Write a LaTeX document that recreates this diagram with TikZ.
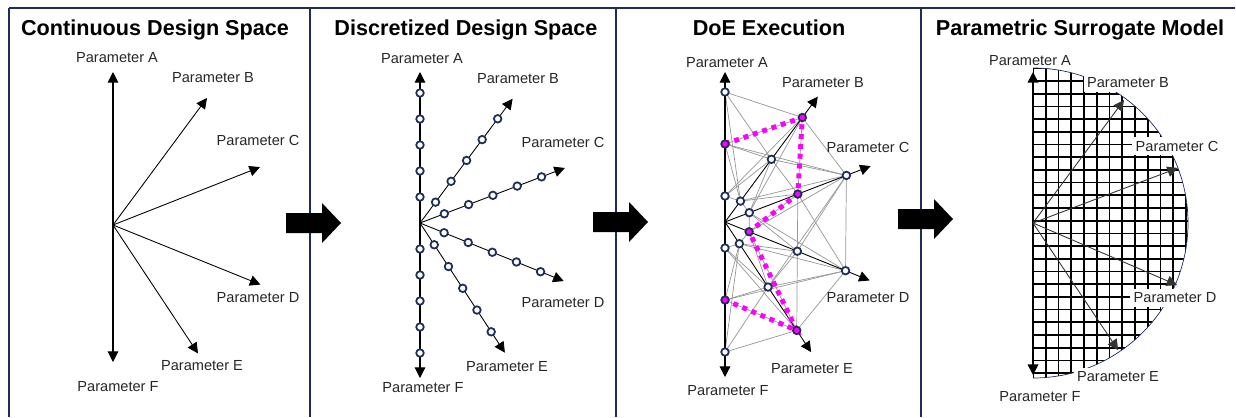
\documentclass[tikz,border=0pt]{standalone}
\usepackage{fontspec}
\setmainfont{Liberation Sans}
\usetikzlibrary{arrows.meta}

\definecolor{navy}{RGB}{31,45,92}
\definecolor{hotpink}{RGB}{255,0,255}
\definecolor{meshgray}{RGB}{150,150,150}

% filled block arrow between two panels: shaft start x, centre y
\newcommand{\blockArrow}[2]{%
  \fill ({#1},{-#2+10}) -- ++(36,0) -- ++(0,10) -- ++(19,-20)
        -- ++(-19,-20) -- ++(0,10) -- ++(-36,0) -- cycle;
}

\begin{document}
\begin{tikzpicture}[x=0.02cm, y=0.02cm,
  frame/.style={navy, line width=1.1pt},
  ttl/.style={font=\fontsize{12.3}{14}\selectfont\bfseries, anchor=base},
  lbl/.style={font=\fontsize{8.3}{10}\selectfont, text=black!85, inner sep=1.5pt},
  wlbl/.style={lbl, fill=white, inner sep=2pt},
  ax/.style={-{Triangle[length=6pt,width=6pt]}, line width=0.5pt},
  axx/.style={{Triangle[length=6pt,width=6pt]}-{Triangle[length=6pt,width=6pt]}, line width=0.6pt},
  pt/.style={circle, draw=navy, fill=white, line width=1pt, minimum size=4.3pt, inner sep=0pt},
  hit/.style={pt, fill=hotpink},
  mesh/.style={meshgray, line width=0.4pt},
  path/.style={hotpink, line width=2.8pt, dash pattern=on 2.8pt off 2.8pt}]

\useasboundingbox (0,0) rectangle (1236,-417);

%─────────────
% Frames and titles
%─────────────
\draw[frame] (9,-8) -- (1235,-8);
\foreach \x in {9,310,616,921}
  \draw[frame] (\x,-8) -- (\x,-417);

\node[ttl] (t1) at (155,-35) {Continuous Design Space};
\node[ttl] (t2) at (466,-35) {Discretized Design Space};
\node[ttl] (t3) at (769,-35) {DoE Execution};
\node[ttl] (t4) at (1080,-35) {Parametric Surrogate Model};

%─────────────
% Panel 1: continuous axes
%─────────────
\coordinate (o1) at (113,-225);
\coordinate (p1a) at (113,-72);
\coordinate (p1f) at (113,-362);
\draw[axx] (p1a) -- (p1f);
\foreach \n/\ang/\len in {b/53.5/158, c/21.5/158, d/-22/159, e/-56.5/154}
  \draw[ax] (o1) -- ++(\ang:\len) coordinate (p1\n);

\node[lbl] (l1a) at (117,-58)  {Parameter A};
\node[lbl] (l1b) at (213,-78)  {Parameter B};
\node[lbl] (l1c) at (258,-140) {Parameter C};
\node[lbl] (l1d) at (258,-298) {Parameter D};
\node[lbl] (l1e) at (202,-366) {Parameter E};
\node[lbl] (l1f) at (118,-387) {Parameter F};

\blockArrow{286}{223}

%─────────────
% Panel 2: axes split into levels
%─────────────
\coordinate (o2) at (420,-223);
\coordinate (p2a) at (420,-72);
\coordinate (p2f) at (420,-378);
\draw[axx] (p2a) -- (p2f);
\foreach \n/\ang in {b/53.3, c/20.8, d/-22, e/-56.8}
  \draw[ax] (o2) -- ++(\ang:155) coordinate (p2\n);

% five levels on every axis
\begin{scope}[shift={(420,-223)}]
  \foreach \ang in {90,53.3,20.8,-22,-56.8,-90}
    \foreach \k in {1,...,5}
      \node[pt] (d2-\ang-\k) at (\ang:26*\k) {};
\end{scope}

\node[lbl] (l2a) at (422,-59)  {Parameter A};
\node[lbl] (l2b) at (518,-79)  {Parameter B};
\node[lbl] (l2c) at (563,-142) {Parameter C};
\node[lbl] (l2d) at (563,-303) {Parameter D};
\node[lbl] (l2e) at (507,-367) {Parameter E};
\node[lbl] (l2f) at (423,-388) {Parameter F};

\blockArrow{593}{222}

%─────────────
% Panel 3: sampled runs
%─────────────
\coordinate (o3) at (725,-222);
\begin{scope}[shift={(725,-222)}]
  \foreach \n/\ang in {a/90, b/53.5, c/21, d/-22, e/-56.5, f/-90}
    \foreach \k in {1,3,5}
      \coordinate (\n\k) at (\ang:26*\k);

  % mesh between neighbouring axes
  \foreach \p/\q in {a/b, b/c, c/d, d/e, e/f}
    \foreach \i in {1,3,5}
      \foreach \j in {1,3,5}
        \draw[mesh] (\p\i) -- (\q\j);
  % a few longer links
  \draw[mesh] (a3) -- (c5);
  \draw[mesh] (f3) -- (d5);
  \draw[mesh] (e3) -- (c5);
\end{scope}

\coordinate (p3a) at (725,-72);
\coordinate (p3f) at (725,-377);
\draw[axx] (p3a) -- (p3f);
\foreach \n/\ang in {b/53.5, c/21, d/-22, e/-56.5}
  \draw[ax] (o3) -- ++(\ang:156) coordinate (p3\n);

% chosen run through the space, with a soft shadow
\draw[path, black, opacity=0.12, shift={(2,-3)}] (a3) -- (b5) -- (c3) -- (d1) -- (e5) -- (f3);
\draw[path] (a3) -- (b5) -- (c3) -- (d1) -- (e5) -- (f3);

\foreach \n in {a1,a5,b1,b3,c1,c5,d3,d5,e1,e3,f1,f5}
  \node[pt] (r\n) at (\n) {};
\foreach \n in {a3,b5,c3,d1,e5,f3}
  \node[hit] (r\n) at (\n) {};

\node[lbl] (l3a) at (727,-63)  {Parameter A};
\node[lbl] (l3b) at (823,-83)  {Parameter B};
\node[lbl] (l3c) at (868,-147) {Parameter C};
\node[lbl] (l3d) at (868,-298) {Parameter D};
\node[lbl] (l3e) at (812,-369) {Parameter E};
\node[lbl] (l3f) at (728,-391) {Parameter F};

\blockArrow{898}{219}

%─────────────
% Panel 4: surrogate over the half disc
%─────────────
\coordinate (o4) at (1033,-223);
\begin{scope}
  \clip (1033,-68) arc[start angle=90, end angle=-90, radius=155] -- cycle;
  \foreach \i in {0,...,12}
    \draw[line width=1pt] (1033+12.75*\i,-60) -- (1033+12.75*\i,-390);
  \foreach \j in {-13,...,13}
    \draw[line width=1pt] (1030,-220.7+12.7*\j) -- (1200,-220.7+12.7*\j);
\end{scope}
\draw[navy, line width=0.4pt] (1033,-68) arc[start angle=90, end angle=-90, radius=155];

\node[lbl]  (l4a) at (1030,-61)  {Parameter A};
\node[wlbl] (l4b) at (1128,-83)  {Parameter B};
\node[wlbl] (l4c) at (1177,-146) {Parameter C};
\node[wlbl] (l4d) at (1175,-298) {Parameter D};
\node[wlbl] (l4e) at (1118,-377) {Parameter E};
\node[lbl]  (l4f) at (1040,-397) {Parameter F};

\coordinate (p4a) at (1033,-72);
\coordinate (p4f) at (1033,-375);
\draw[axx, line width=1pt] (p4a) -- (p4f);
\foreach \n/\ang/\len in {b/53.5/153, c/20.8/155, d/-23.3/157, e/-56.2/153}
  \draw[ax, black!80] (o4) -- ++(\ang:\len) coordinate (p4\n);

\end{tikzpicture}
\end{document}
